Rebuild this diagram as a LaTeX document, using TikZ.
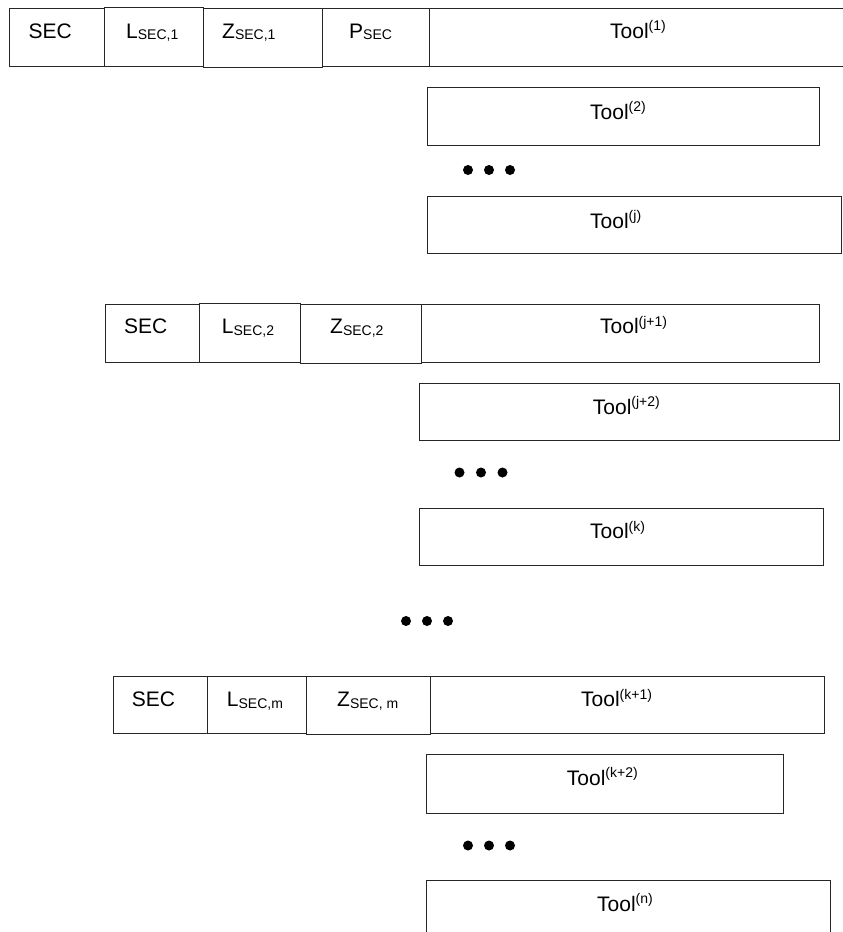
\documentclass[tikz,border=0pt]{standalone}
\usepackage{fontspec}
\setmainfont{Liberation Sans}
\newcommand\mysub[1]{\raisebox{-1.5pt}{\fontsize{14}{14}\selectfont #1}}
\newcommand\mysup[1]{\raisebox{7.5pt}{\fontsize{14}{14}\selectfont #1}}
\begin{document}
\begin{tikzpicture}[x=1pt,y=-1pt,
  cell/.style={draw=black!85, line width=1pt, inner sep=0pt, anchor=north west},
  lbl/.style={inner sep=0pt, anchor=base west, font=\fontsize{21}{24}\selectfont},
  dot/.style={circle, fill=black, inner sep=0pt, minimum size=10pt}]
\useasboundingbox (0,0) rectangle (843,932);
\clip (0,0) rectangle (843,932);
% Row 1
\node[cell, minimum width=95pt, minimum height=58pt] (s1) at (8.5,7.5) {};
\node[cell, minimum width=99.5pt, minimum height=58.5pt] (l1) at (103.5,7) {};
\node[cell, minimum width=119pt, minimum height=58.5pt] (z1) at (203,8) {};
\node[cell, minimum width=107pt, minimum height=58.5pt] (p1) at (322,7.5) {};
\node[cell, minimum width=420pt, minimum height=58pt] (t1) at (429,7.5) {};
\node[lbl] (ts1) at (28.3,38.3) {SEC};
\node[lbl] (tl1) at (126,38.3) {L\mysub{SEC,1}};
\node[lbl] (tz1) at (222,38.3) {Z\mysub{SEC,1}};
\node[lbl] (tp1) at (349,38.3) {P\mysub{SEC}};
\node[lbl] (tt1) at (610,38.3) {Tool\mysup{(1)}};
% Tool 2, dots, Tool j
\node[cell, minimum width=392pt, minimum height=57.5pt] (t2) at (426.5,87) {};
\node[lbl] (tt2) at (590,119) {Tool\mysup{(2)}};
\node[dot] (d11) at (468,170) {};
\node[dot] (d12) at (489,170) {};
\node[dot] (d13) at (510,170) {};
\node[cell, minimum width=414.5pt, minimum height=56.5pt] (tj) at (426.5,196) {};
\node[lbl] (ttj) at (590,228) {Tool\mysup{(j)}};
% Row 2
\node[cell, minimum width=93.5pt, minimum height=58pt] (s2) at (105,303.5) {};
\node[cell, minimum width=101pt, minimum height=59pt] (l2) at (198.5,302.5) {};
\node[cell, minimum width=121.5pt, minimum height=59pt] (z2) at (299.5,304) {};
\node[cell, minimum width=398pt, minimum height=58pt] (tj1) at (421,303.5) {};
\node[lbl] (ts2) at (124,333.5) {SEC};
\node[lbl] (tl2) at (221.7,333.5) {L\mysub{SEC,2}};
\node[lbl] (tz2) at (330,333.5) {Z\mysub{SEC,2}};
\node[lbl] (ttj1) at (600,333.5) {Tool\mysup{(j+1)}};
\node[cell, minimum width=420pt, minimum height=57.5pt] (tj2) at (418.5,382.5) {};
\node[lbl] (ttj2) at (592.7,414) {Tool\mysup{(j+2)}};
\node[dot] (d21) at (459.5,472.5) {};
\node[dot] (d22) at (481,472.5) {};
\node[dot] (d23) at (502.5,472.5) {};
\node[cell, minimum width=404pt, minimum height=57.5pt] (tk) at (418.5,507.5) {};
\node[lbl] (ttk) at (590,538.5) {Tool\mysup{(k)}};
% big dots
\node[dot] (b1) at (406,621) {};
\node[dot] (b2) at (427,621) {};
\node[dot] (b3) at (448,621) {};
% Row m
\node[cell, minimum width=94pt, minimum height=57.5pt] (sm) at (112.5,675.5) {};
\node[cell, minimum width=99.5pt, minimum height=57.5pt] (lm) at (206.5,675.5) {};
\node[cell, minimum width=124pt, minimum height=58pt] (zm) at (306,676) {};
\node[cell, minimum width=394pt, minimum height=57.5pt] (tk1) at (430,675.5) {};
\node[lbl] (tsm) at (131.7,706.5) {SEC};
\node[lbl] (tlm) at (226.7,706.5) {L\mysub{SEC,m}};
\node[lbl] (tzm) at (337,706.5) {Z\mysub{SEC, m}};
\node[lbl] (ttk1) at (581,706.5) {Tool\mysup{(k+1)}};
\node[cell, minimum width=356.5pt, minimum height=58.5pt] (tk2) at (426,754) {};
\node[lbl] (ttk2) at (566.7,785) {Tool\mysup{(k+2)}};
\node[dot] (d31) at (468,845.5) {};
\node[dot] (d32) at (489,845.5) {};
\node[dot] (d33) at (510,845.5) {};
\node[cell, minimum width=404pt, minimum height=70pt] (tn) at (426,880) {};
\node[lbl] (ttn) at (597,911) {Tool\mysup{(n)}};
\end{tikzpicture}
\end{document}
